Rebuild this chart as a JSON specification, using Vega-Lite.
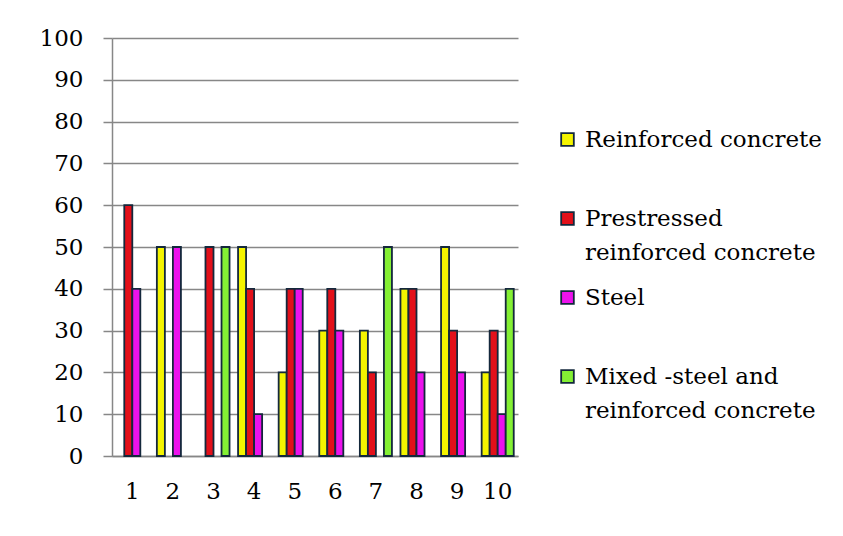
{
  "$schema": "https://vega.github.io/schema/vega-lite/v6.json",
  "width": 406,
  "height": 418,
  "autosize": {"type": "none"},
  "padding": {"left": 112, "top": 38, "right": 325, "bottom": 80},
  "background": "white",
  "data": {
    "values": [
      {"group": "1", "material": "Prestressed reinforced concrete", "value": 60},
      {"group": "1", "material": "Steel", "value": 40},
      {"group": "2", "material": "Reinforced concrete", "value": 50},
      {"group": "2", "material": "Steel", "value": 50},
      {"group": "3", "material": "Prestressed reinforced concrete", "value": 50},
      {"group": "3", "material": "Mixed -steel and reinforced concrete", "value": 50},
      {"group": "4", "material": "Reinforced concrete", "value": 50},
      {"group": "4", "material": "Prestressed reinforced concrete", "value": 40},
      {"group": "4", "material": "Steel", "value": 10},
      {"group": "5", "material": "Reinforced concrete", "value": 20},
      {"group": "5", "material": "Prestressed reinforced concrete", "value": 40},
      {"group": "5", "material": "Steel", "value": 40},
      {"group": "6", "material": "Reinforced concrete", "value": 30},
      {"group": "6", "material": "Prestressed reinforced concrete", "value": 40},
      {"group": "6", "material": "Steel", "value": 30},
      {"group": "7", "material": "Reinforced concrete", "value": 30},
      {"group": "7", "material": "Prestressed reinforced concrete", "value": 20},
      {"group": "7", "material": "Mixed -steel and reinforced concrete", "value": 50},
      {"group": "8", "material": "Reinforced concrete", "value": 40},
      {"group": "8", "material": "Prestressed reinforced concrete", "value": 40},
      {"group": "8", "material": "Steel", "value": 20},
      {"group": "9", "material": "Reinforced concrete", "value": 50},
      {"group": "9", "material": "Prestressed reinforced concrete", "value": 30},
      {"group": "9", "material": "Steel", "value": 20},
      {"group": "10", "material": "Reinforced concrete", "value": 20},
      {"group": "10", "material": "Prestressed reinforced concrete", "value": 30},
      {"group": "10", "material": "Steel", "value": 10},
      {"group": "10", "material": "Mixed -steel and reinforced concrete", "value": 40}
    ]
  },
  "mark": {"type": "bar", "stroke": "#14283c", "strokeWidth": 1.8, "cornerRadius": 0},
  "encoding": {
    "x": {
      "field": "group",
      "type": "nominal",
      "sort": ["1", "2", "3", "4", "5", "6", "7", "8", "9", "10"],
      "scale": {"paddingInner": 0.21, "paddingOuter": 0.105},
      "axis": {
        "title": null,
        "labelAngle": 0,
        "ticks": false,
        "grid": false,
        "domainColor": "#878787",
        "domainWidth": 1.5,
        "labelPadding": 24,
        "labelFont": "DejaVu Serif",
        "labelFontSize": 23,
        "labelColor": "#000000"
      }
    },
    "xOffset": {
      "field": "material",
      "type": "nominal",
      "scale": {
        "domain": ["Reinforced concrete", "Prestressed reinforced concrete", "Steel", "Mixed -steel and reinforced concrete"],
        "paddingInner": 0,
        "paddingOuter": 0
      }
    },
    "y": {
      "field": "value",
      "type": "quantitative",
      "scale": {"domain": [0, 100], "nice": false},
      "axis": {
        "title": null,
        "values": [0, 10, 20, 30, 40, 50, 60, 70, 80, 90, 100],
        "tickSize": 9,
        "tickColor": "#878787",
        "tickWidth": 1.5,
        "domainColor": "#878787",
        "domainWidth": 1.5,
        "gridColor": "#878787",
        "gridWidth": 1.5,
        "labelPadding": 20,
        "labelFont": "DejaVu Serif",
        "labelFontSize": 23,
        "labelColor": "#000000"
      }
    },
    "color": {
      "field": "material",
      "type": "nominal",
      "scale": {
        "domain": ["Reinforced concrete", "Prestressed reinforced concrete", "Steel", "Mixed -steel and reinforced concrete"],
        "range": ["#f4f400", "#e2101a", "#ec12ec", "#84f034"]
      },
      "legend": {
        "title": null,
        "orient": "none",
        "legendX": 444,
        "legendY": 90,
        "padding": 0,
        "symbolType": "square",
        "symbolSize": 160,
        "symbolStrokeColor": "#14283c",
        "symbolStrokeWidth": 1.8,
        "symbolOpacity": 1,
        "labelFont": "DejaVu Serif",
        "labelFontSize": 23,
        "labelColor": "#000000",
        "labelOffset": 6,
        "labelLimit": 400,
        "rowPadding": 21,
        "labelExpr": "datum.label == 'Prestressed reinforced concrete' ? ['Prestressed', 'reinforced concrete'] : datum.label == 'Mixed -steel and reinforced concrete' ? ['Mixed -steel and', 'reinforced concrete'] : [datum.label, ' ']",
        "encode": {
          "labels": {
            "update": {
              "lineHeight": {"value": 34}
            }
          }
        }
      }
    }
  },
  "config": {
    "view": {"stroke": null},
    "font": "DejaVu Serif"
  }
}
